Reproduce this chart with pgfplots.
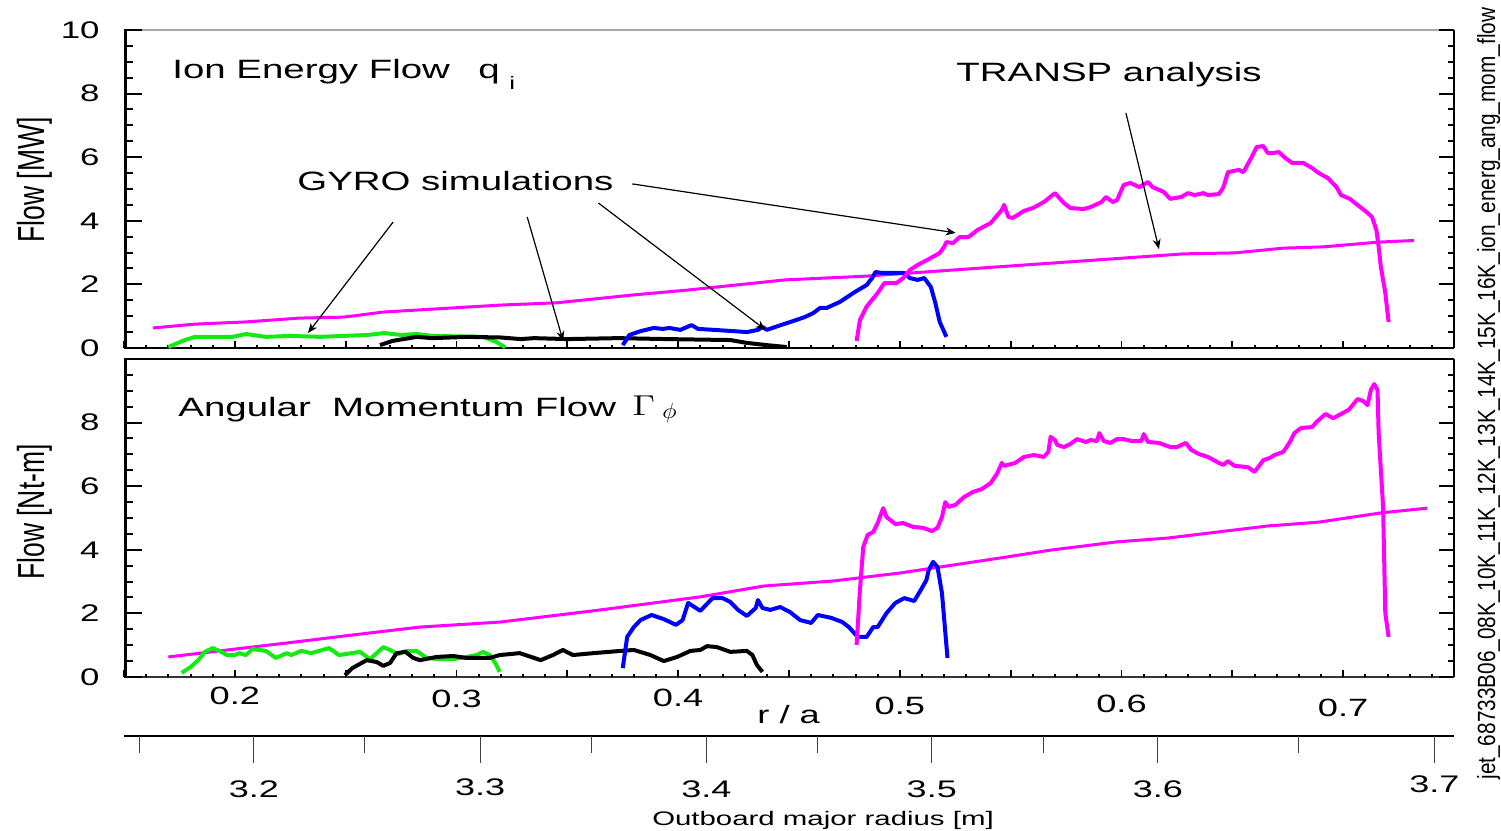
\documentclass[border=0pt]{standalone}
\usepackage{pgfplots}
\pgfplotsset{compat=1.18}
\usepackage{fontspec}
\setmainfont{Liberation Sans}
\usetikzlibrary{arrows.meta}
\definecolor{mag}{RGB}{255,0,255}
\definecolor{grn}{RGB}{20,235,20}
\definecolor{blu}{RGB}{0,0,255}
\newcommand{\hs}[1]{\scalebox{1.45}[1]{#1}}
\newcommand{\tl}{\fontsize{12bp}{12bp}\selectfont}
\newcommand{\bt}{\fontsize{13.25bp}{16bp}\selectfont}
\pgfplotsset{
  panel/.style={
    anchor=south west, scale only axis, width=665bp, height=159bp,
    xmin=0.15, xmax=0.75, ymin=0, ymax=10, clip=false,
    axis line style={draw=none},
    ytick={0,2,4,6,8,10}, minor y tick num=0,
    yticklabel style={font=\tl, anchor=east, inner sep=0pt, xshift=-12bp},
    tick align=inside, major tick length=0pt, minor tick length=0pt,
    tick style={draw=none},
  },
  noisy/.style={line width=2bp, line join=round, no markers},
  smooth/.style={mag, line width=1.5bp, line join=round, no markers},
}
\newcommand{\ticksmanual}{%
  \pgfplotsinvokeforeach{0.15,0.2,0.25,0.3,0.35,0.4,0.45,0.5,0.55,0.6,0.65,0.7,0.75}{\draw[black, line width=0.9bp] (axis cs:##1,0) -- ([yshift=3.5bp]axis cs:##1,0);}%
  \pgfplotsinvokeforeach{0.16,0.17,0.18,0.19,0.21,0.22,0.23,0.24,0.26,0.27,0.28,0.29,0.31,0.32,0.33,0.34,0.36,0.37,0.38,0.39,0.41,0.42,0.43,0.44,0.46,0.47,0.48,0.49,0.51,0.52,0.53,0.54,0.56,0.57,0.58,0.59,0.61,0.62,0.63,0.64,0.66,0.67,0.68,0.69,0.71,0.72,0.73,0.74}{\draw[black, line width=1bp] (axis cs:##1,0) -- ([yshift=1.6bp]axis cs:##1,0);}%
}
\begin{document}
\begin{tikzpicture}
\useasboundingbox[fill=white] (0,0) rectangle (750.5bp,415.5bp);

% ---------------- top panel ----------------
\begin{axis}[panel, at={(62bp,241.5bp)},
  xtick=\empty,
  yticklabels={\hs{0},\hs{2},\hs{4},\hs{6},\hs{8},\hs{10}},
]
\draw[gray!70, line width=0.7bp] (rel axis cs:0,1) -- (rel axis cs:1,1);
\draw[black, line width=1.1bp] (rel axis cs:0,0) -- (rel axis cs:1,0);
\draw[black, line width=1bp] (rel axis cs:1,0) -- (rel axis cs:1,1);
\ticksmanual
\addplot[smooth] coordinates {(0.163,0.63)(0.182,0.75)(0.205,0.82)(0.229,0.94)(0.249,0.97)(0.267,1.13)(0.320,1.35)(0.345,1.42)(0.380,1.67)(0.404,1.82)(0.448,2.14)(0.485,2.26)(0.546,2.56)(0.583,2.74)(0.628,2.96)(0.651,2.99)(0.673,3.14)(0.691,3.18)(0.716,3.33)(0.732,3.38)};
\addplot[noisy, grn] coordinates {(0.170,0.03)(0.1775,0.25)(0.182,0.35)(0.199,0.35)(0.205,0.44)(0.214,0.35)(0.225,0.38)(0.2385,0.35)(0.249,0.38)(0.260,0.41)(0.2675,0.47)(0.275,0.41)(0.282,0.44)(0.289,0.38)(0.312,0.35)(0.318,0.19)(0.322,0.02)};
\addplot[noisy, black] coordinates {(0.2655,0.09)(0.271,0.22)(0.282,0.35)(0.289,0.31)(0.305,0.35)(0.320,0.33)(0.329,0.28)(0.335,0.31)(0.350,0.28)(0.373,0.31)(0.395,0.28)(0.4235,0.25)(0.431,0.16)(0.440,0.09)(0.449,0.03)};
\addplot[noisy, blu] coordinates {(0.375,0.09)(0.378,0.41)(0.383,0.53)(0.389,0.63)(0.393,0.60)(0.396,0.63)(0.401,0.57)(0.406,0.72)(0.409,0.60)(0.416,0.57)(0.425,0.53)(0.431,0.50)(0.436,0.57)(0.438,0.66)(0.440,0.57)(0.445,0.69)(0.452,0.85)(0.457,0.97)(0.461,1.10)(0.464,1.26)(0.467,1.26)(0.473,1.45)(0.479,1.73)(0.485,1.98)(0.4875,2.20)(0.489,2.39)(0.492,2.36)(0.497,2.36)(0.502,2.36)(0.5045,2.20)(0.508,2.14)(0.511,2.20)(0.514,1.92)(0.516,1.42)(0.518,0.82)(0.521,0.35)};
\addplot[noisy, mag] coordinates {(0.4805,0.22)(0.482,0.88)(0.485,1.30)(0.490,1.73)(0.493,2.04)(0.496,2.04)(0.4985,2.04)(0.5015,2.20)(0.5045,2.45)(0.508,2.61)(0.514,2.83)(0.518,2.99)(0.520,3.18)(0.521,3.33)(0.524,3.30)(0.527,3.49)(0.531,3.49)(0.535,3.71)(0.541,3.93)(0.546,4.34)(0.547,4.50)(0.549,4.12)(0.551,4.09)(0.556,4.31)(0.560,4.40)(0.565,4.59)(0.570,4.87)(0.574,4.56)(0.577,4.40)(0.583,4.37)(0.586,4.43)(0.591,4.59)(0.593,4.75)(0.596,4.59)(0.598,4.65)(0.601,5.13)(0.604,5.19)(0.608,5.06)(0.612,5.22)(0.614,5.06)(0.619,4.91)(0.622,4.69)(0.627,4.75)(0.630,4.87)(0.633,4.81)(0.637,4.87)(0.639,4.81)(0.644,4.84)(0.646,5.06)(0.648,5.53)(0.653,5.60)(0.655,5.53)(0.658,5.91)(0.661,6.32)(0.664,6.35)(0.666,6.13)(0.668,6.13)(0.671,6.16)(0.674,5.97)(0.677,5.82)(0.682,5.82)(0.686,5.66)(0.689,5.50)(0.693,5.35)(0.697,5.06)(0.699,4.81)(0.703,4.69)(0.707,4.47)(0.711,4.25)(0.713,4.12)(0.715,3.71)(0.716,3.18)(0.717,2.55)(0.719,1.73)(0.7205,0.82)};
% annotation arrows
\begin{scope}[-{Stealth[length=5bp,width=4bp]}, line width=0.6bp, black]
\draw (axis cs:0.2714,3.96) -- (axis cs:0.2330,0.47);
\draw (axis cs:0.3319,4.12) -- (axis cs:0.3481,0.22);
\draw (axis cs:0.3640,4.56) -- (axis cs:0.4394,0.57);
\draw (axis cs:0.3793,5.16) -- (axis cs:0.5252,3.62);
\draw (axis cs:0.6020,7.39) -- (axis cs:0.6169,3.11);
\end{scope}
\end{axis}

% ---------------- bottom panel ----------------
\begin{axis}[panel, at={(62bp,77bp)},
  yticklabels={\hs{0},\hs{2},\hs{4},\hs{6},\hs{8},{}},
  xtick={0.2,0.3,0.4,0.5,0.6,0.7},
  xticklabels={\hs{0.2},\raisebox{-1.25bp}{\hs{0.3}},\raisebox{-1bp}{\hs{0.4}},\raisebox{-5bp}{\hs{0.5}},\raisebox{-4bp}{\hs{0.6}},\raisebox{-5.75bp}{\hs{0.7}}},
  xticklabel style={font=\fontsize{12.5bp}{12.5bp}\selectfont, anchor=base, inner sep=0pt, yshift=-14bp},
]
\draw[black, line width=0.6bp] (rel axis cs:0,1) -- (rel axis cs:1,1);
\draw[black!80, line width=0.7bp] (rel axis cs:0,0) -- (rel axis cs:1,0);
\draw[black, line width=1bp] (rel axis cs:1,0) -- (rel axis cs:1,1);
\ticksmanual
\addplot[smooth] coordinates {(0.170,0.63)(0.193,0.82)(0.2235,1.07)(0.253,1.32)(0.2835,1.57)(0.320,1.73)(0.365,2.11)(0.410,2.52)(0.4385,2.86)(0.470,3.02)(0.500,3.27)(0.546,3.75)(0.568,3.99)(0.598,4.25)(0.621,4.37)(0.6435,4.56)(0.666,4.75)(0.689,4.87)(0.717,5.16)(0.738,5.31)};
\addplot[noisy, grn] coordinates {(0.176,0.13)(0.180,0.31)(0.1835,0.53)(0.1865,0.79)(0.190,0.91)(0.193,0.82)(0.1965,0.69)(0.200,0.69)(0.202,0.75)(0.205,0.69)(0.208,0.88)(0.214,0.82)(0.2185,0.60)(0.2235,0.75)(0.2255,0.69)(0.230,0.82)(0.2345,0.75)(0.2425,0.91)(0.247,0.69)(0.2565,0.79)(0.261,0.56)(0.267,0.94)(0.270,0.85)(0.2735,0.72)(0.2775,0.82)(0.282,0.82)(0.2865,0.60)(0.2925,0.56)(0.2985,0.56)(0.3045,0.63)(0.309,0.69)(0.312,0.79)(0.315,0.69)(0.3175,0.44)(0.3195,0.16)};
\addplot[noisy, black] coordinates {(0.2497,0.06)(0.253,0.28)(0.2595,0.53)(0.264,0.47)(0.267,0.35)(0.270,0.44)(0.273,0.75)(0.277,0.79)(0.2805,0.60)(0.2835,0.53)(0.291,0.63)(0.2985,0.66)(0.3045,0.60)(0.3105,0.60)(0.315,0.60)(0.3195,0.69)(0.3285,0.75)(0.338,0.53)(0.3435,0.69)(0.348,0.85)(0.3525,0.69)(0.3617,0.75)(0.374,0.82)(0.380,0.85)(0.3875,0.69)(0.3935,0.50)(0.3995,0.63)(0.4055,0.82)(0.410,0.85)(0.413,0.97)(0.4175,0.94)(0.4235,0.79)(0.431,0.82)(0.4335,0.69)(0.4355,0.38)(0.438,0.16)};
\addplot[noisy, blu] coordinates {(0.375,0.28)(0.377,1.26)(0.380,1.57)(0.383,1.79)(0.388,1.95)(0.3935,1.82)(0.399,1.64)(0.402,1.79)(0.4045,2.33)(0.410,2.08)(0.4155,2.48)(0.420,2.48)(0.4235,2.36)(0.427,2.11)(0.431,1.92)(0.435,2.17)(0.436,2.42)(0.438,2.17)(0.4415,2.11)(0.446,2.20)(0.4505,2.04)(0.455,1.79)(0.460,1.70)(0.463,1.95)(0.469,1.86)(0.474,1.73)(0.477,1.57)(0.481,1.26)(0.485,1.26)(0.488,1.57)(0.490,1.57)(0.494,2.01)(0.498,2.33)(0.502,2.48)(0.5065,2.39)(0.5095,2.74)(0.512,3.05)(0.513,3.36)(0.515,3.62)(0.517,3.46)(0.519,2.64)(0.5215,0.60)};
\addplot[noisy, mag] coordinates {(0.4805,1.01)(0.482,2.74)(0.4835,4.09)(0.4855,4.47)(0.488,4.56)(0.490,4.84)(0.4925,5.31)(0.494,5.03)(0.498,4.81)(0.5015,4.84)(0.506,4.72)(0.5105,4.69)(0.5145,4.59)(0.517,4.69)(0.519,5.03)(0.5205,5.50)(0.522,5.35)(0.525,5.41)(0.529,5.66)(0.533,5.82)(0.537,5.91)(0.541,6.10)(0.544,6.41)(0.546,6.73)(0.547,6.64)(0.552,6.73)(0.556,6.92)(0.5605,6.98)(0.565,6.92)(0.567,7.08)(0.568,7.55)(0.570,7.45)(0.571,7.30)(0.574,7.23)(0.577,7.33)(0.580,7.48)(0.584,7.39)(0.586,7.45)(0.589,7.42)(0.590,7.67)(0.592,7.42)(0.595,7.36)(0.598,7.48)(0.601,7.48)(0.6045,7.42)(0.609,7.42)(0.610,7.64)(0.612,7.39)(0.617,7.36)(0.622,7.23)(0.625,7.23)(0.629,7.36)(0.6315,7.14)(0.635,7.01)(0.639,6.92)(0.644,6.73)(0.646,6.67)(0.648,6.79)(0.651,6.64)(0.657,6.60)(0.660,6.45)(0.664,6.82)(0.667,6.89)(0.669,6.98)(0.673,7.08)(0.676,7.39)(0.678,7.67)(0.681,7.83)(0.686,7.86)(0.688,8.02)(0.692,8.27)(0.6955,8.14)(0.699,8.27)(0.7025,8.40)(0.7065,8.74)(0.709,8.68)(0.711,8.55)(0.7125,9.03)(0.714,9.21)(0.7155,9.03)(0.716,7.67)(0.718,5.35)(0.719,2.01)(0.7205,1.26)};
\end{axis}

% ---------------- major radius axis ----------------
\begin{axis}[at={(62bp,47.5bp)}, anchor=south west, scale only axis,
  width=665bp, height=10bp, xmin=0.15, xmax=0.75, ymin=0, ymax=1,
  axis y line=none, axis x line=bottom, axis line style={-, line width=1bp, black},
  xtick={0.2086,0.3107,0.4127,0.5144,0.6164,0.7411},
  xticklabels={\scalebox{1.5}[1]{3.2},\raisebox{0.75bp}{\scalebox{1.5}[1]{3.3}},\scalebox{1.5}[1]{3.4},\scalebox{1.5}[1]{3.5},\scalebox{1.5}[1]{3.6},\raisebox{2.5bp}{\scalebox{1.5}[1]{3.7}}},
  tick style={draw=none}, major tick length=0pt, minor x tick num=0,
  xticklabel style={font=\tl, anchor=base, inner sep=0pt, yshift=-30.5bp},
  clip=false,
]
\pgfplotsinvokeforeach{0.2086,0.3107,0.4127,0.5144,0.6164,0.7411}{\draw[black!75, line width=0.5bp] (axis cs:#1,0) -- ([yshift=-13.5bp]axis cs:#1,0);}
\pgfplotsinvokeforeach{0.1571,0.2587,0.3608,0.4629,0.5650,0.6797}{\draw[black!75, line width=0.5bp] (axis cs:#1,0) -- ([yshift=-8.5bp]axis cs:#1,0);}
\end{axis}

% ---------------- texts ----------------
\begin{scope}[every node/.style={inner sep=0pt}]
\node[anchor=base west] at (86bp,376bp) {\bt\hs{Ion Energy Flow}};
\node[anchor=base west] at (239bp,376bp) {\bt\hs{q}};
\node[anchor=base west] at (254.5bp,370.5bp) {\fontsize{9bp}{9bp}\selectfont\hs{i}};
\node[anchor=base west] at (148.5bp,320bp) {\bt\hs{GYRO simulations}};
\node[anchor=base west] at (478bp,374.5bp) {\bt\hs{TRANSP analysis}};
\node[anchor=base west] at (89bp,207bp) {\bt\hs{Angular\ \ Momentum Flow}};
\node[anchor=base west] at (316bp,207.5bp) {\bt\scalebox{1.3}[1]{$\Gamma$}};
\node[anchor=base west] at (331bp,206bp) {\fontsize{10.5bp}{10.5bp}\selectfont\scalebox{1.1}[1]{$\phi$}};
\node[rotate=90] at (17.25bp,325.5bp) {\bt\scalebox{1}[1.42]{Flow [MW]}};
\node[rotate=90] at (17.25bp,159.5bp) {\bt\scalebox{1}[1.42]{Flow [Nt-m]}};
\node[anchor=base west] at (378.5bp,53.5bp) {\fontsize{12.5bp}{12.5bp}\selectfont\hs{r / a}};
\node[anchor=base] at (411.5bp,3bp) {\fontsize{9.8bp}{10bp}\selectfont\scalebox{1.5}[1]{Outboard major radius [m]}};
\node[rotate=90, anchor=base west] at (747.5bp,25.5bp) {\resizebox{386bp}{9bp}{\fontsize{10bp}{10bp}\selectfont jet\_68733B06\_08K\_10K\_11K\_12K\_13K\_14K\_15K\_16K\_ion\_energ\_ang\_mom\_flow}};
\end{scope}

% ---------------- left spines and y ticks (drawn last) ----------------
\draw[black, line width=1.4bp] (62.6bp,241.5bp) -- (62.6bp,400.5bp);
\draw[black, line width=1.4bp] (62.6bp,77bp) -- (62.6bp,236bp);
\foreach \b in {241.5,77}{
  \foreach \v in {0,2,4,6,8,10}{
    \draw[black, line width=1bp] (62bp,{\b bp+\v*15.9bp}) -- ++(9bp,0);
    \draw[black, line width=1bp] (727bp,{\b bp+\v*15.9bp}) -- ++(-7.5bp,0);
  }
  \foreach \v in {0.5,1,1.5,2.5,3,3.5,4.5,5,5.5,6.5,7,7.5,8.5,9,9.5}{
    \draw[black, line width=1bp] (62bp,{\b bp+\v*15.9bp}) -- ++(4.5bp,0);
    \draw[black, line width=1bp] (727bp,{\b bp+\v*15.9bp}) -- ++(-3bp,0);
  }
}
\end{tikzpicture}
\end{document}
